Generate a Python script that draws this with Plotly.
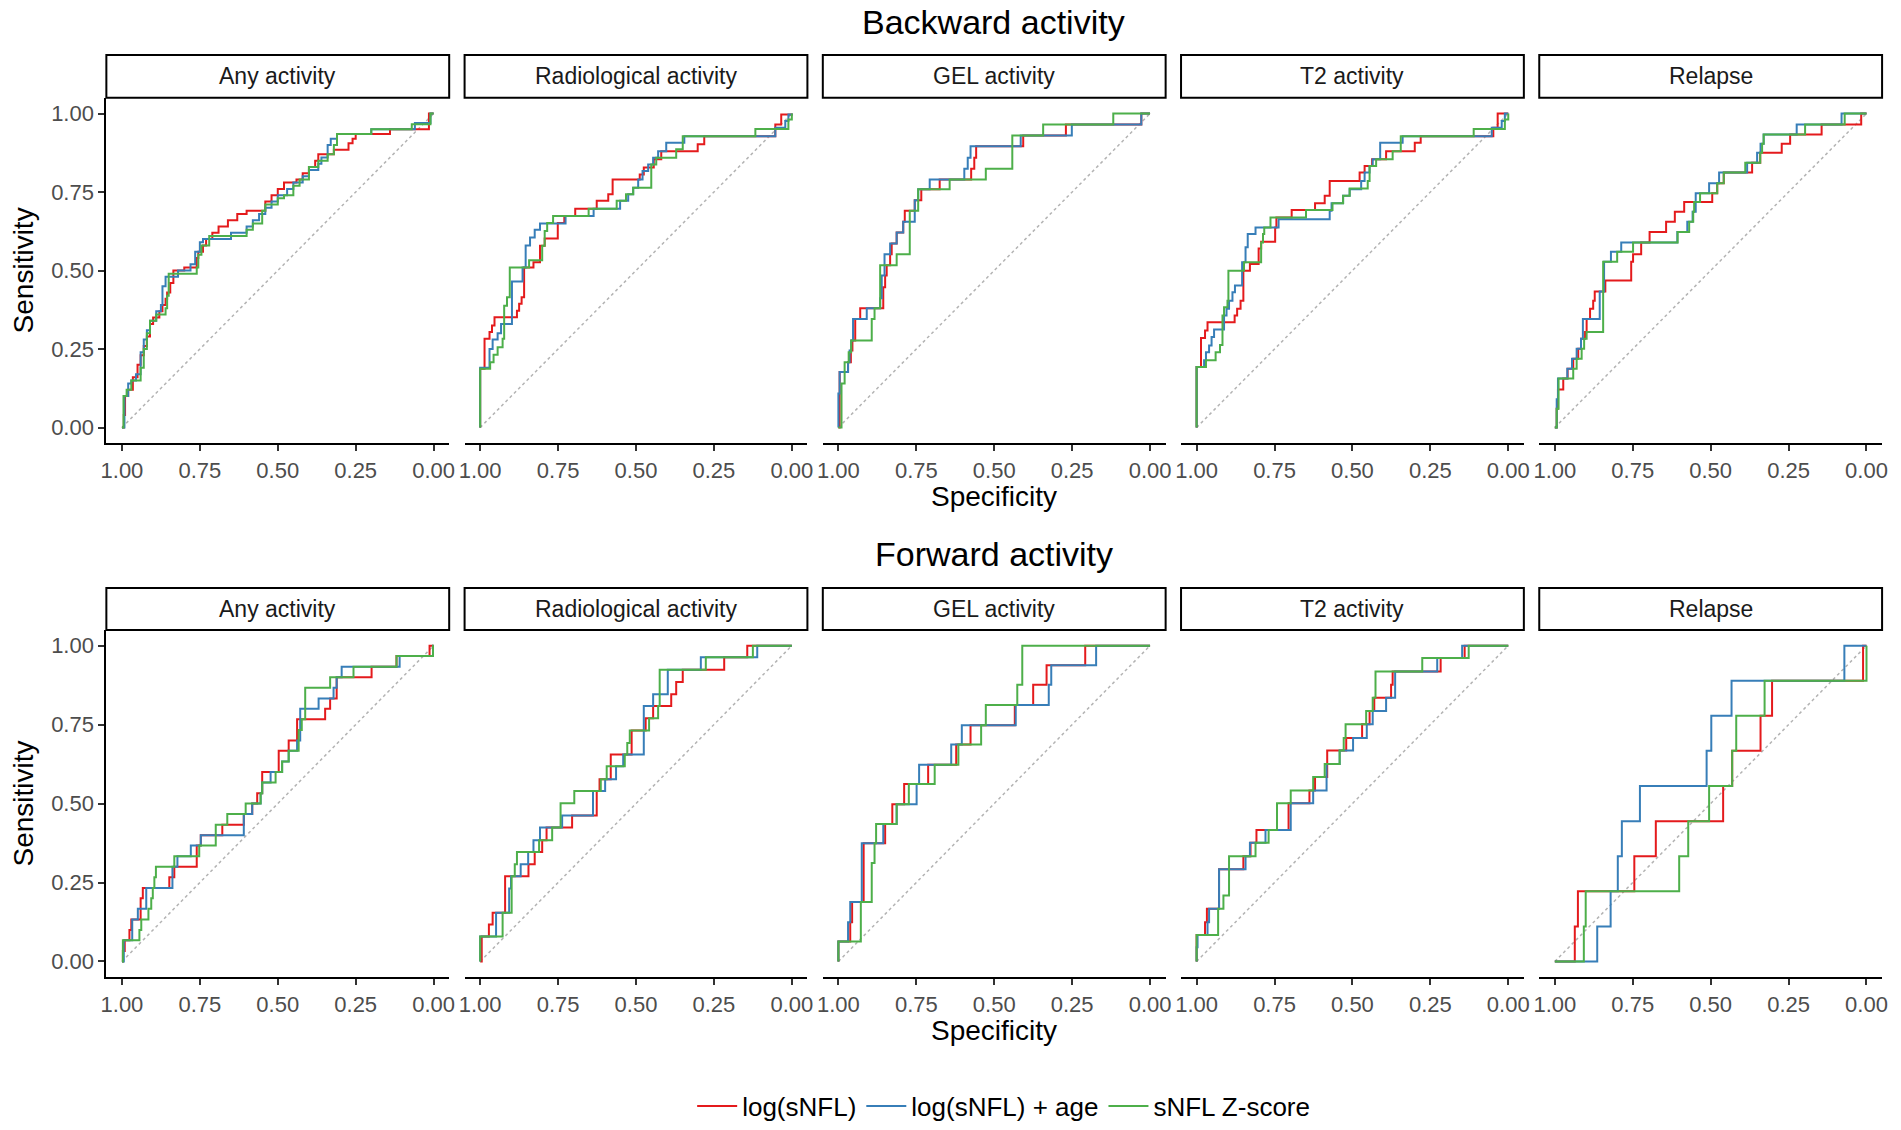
import plotly.graph_objects as go

# ROC curves: (1 - specificity, sensitivity) at each step corner
MODELS = ["log(sNFL)", "log(sNFL) + age", "sNFL Z-score"]
COLORS = ["#E41A1C", "#377EB8", "#4DAF4A"]
OUTCOMES = ["Any activity", "Radiological activity", "GEL activity", "T2 activity", "Relapse"]

# Backward activity
bwd_any_log = [(0, 0), (0.006, 0.04), (0.01, 0.1), (0.02, 0.12), (0.035, 0.16), (0.05, 0.2), (0.06, 0.23),
               (0.07, 0.26), (0.08, 0.29), (0.09, 0.33), (0.1, 0.35), (0.12, 0.37), (0.13, 0.39), (0.14, 0.41),
               (0.145, 0.43), (0.155, 0.46), (0.165, 0.5), (0.2, 0.51), (0.24, 0.54), (0.245, 0.56), (0.26, 0.58),
               (0.27, 0.6), (0.29, 0.62), (0.31, 0.64), (0.34, 0.66), (0.37, 0.68), (0.4, 0.69), (0.46, 0.72),
               (0.48, 0.74), (0.5, 0.76), (0.52, 0.78), (0.56, 0.79), (0.58, 0.81), (0.6, 0.83), (0.62, 0.85),
               (0.63, 0.87), (0.68, 0.885), (0.727, 0.905), (0.74, 0.92), (0.75, 0.935), (0.86, 0.95),
               (0.985, 1), (1, 1)]
bwd_any_age = [(0, 0), (0.008, 0.1), (0.02, 0.14), (0.03, 0.15), (0.045, 0.17), (0.06, 0.24), (0.07, 0.28),
               (0.08, 0.31), (0.09, 0.34), (0.11, 0.37), (0.125, 0.39), (0.13, 0.45), (0.14, 0.48), (0.18, 0.5),
               (0.22, 0.52), (0.235, 0.56), (0.25, 0.59), (0.26, 0.6), (0.35, 0.62), (0.4, 0.64), (0.42, 0.66),
               (0.44, 0.68), (0.46, 0.7), (0.48, 0.72), (0.5, 0.74), (0.53, 0.76), (0.55, 0.78), (0.58, 0.8),
               (0.6, 0.82), (0.63, 0.84), (0.64, 0.86), (0.66, 0.9), (0.67, 0.92), (0.69, 0.935), (0.8, 0.95),
               (0.94, 0.97), (0.99, 1), (1, 1)]
bwd_any_z = [(0, 0), (0.005, 0.1), (0.015, 0.12), (0.03, 0.15), (0.06, 0.19), (0.07, 0.25), (0.08, 0.3),
             (0.09, 0.34), (0.11, 0.36), (0.14, 0.38), (0.145, 0.42), (0.15, 0.49), (0.24, 0.51), (0.245, 0.55),
             (0.255, 0.58), (0.28, 0.61), (0.4, 0.63), (0.42, 0.65), (0.45, 0.69), (0.46, 0.71), (0.5, 0.73),
             (0.52, 0.74), (0.55, 0.77), (0.57, 0.79), (0.6, 0.83), (0.63, 0.85), (0.66, 0.87), (0.68, 0.9),
             (0.69, 0.935), (0.8, 0.95), (0.93, 0.966), (0.99, 1), (1, 1)]

bwd_rad_log = [(0, 0), (0, 0.187), (0.014, 0.283), (0.03, 0.304), (0.038, 0.325), (0.046, 0.351), (0.118, 0.372),
               (0.125, 0.394), (0.133, 0.415), (0.141, 0.51), (0.171, 0.526), (0.192, 0.579), (0.207, 0.602),
               (0.249, 0.651), (0.27, 0.674), (0.305, 0.697), (0.374, 0.722), (0.411, 0.743), (0.425, 0.79),
               (0.512, 0.806), (0.525, 0.828), (0.557, 0.854), (0.581, 0.88), (0.698, 0.902), (0.719, 0.928),
               (0.947, 0.965), (0.966, 0.997), (1, 1)]
bwd_rad_age = [(0, 0), (0, 0.19), (0.03, 0.25), (0.04, 0.28), (0.056, 0.3), (0.067, 0.33), (0.102, 0.465),
               (0.136, 0.51), (0.146, 0.58), (0.16, 0.605), (0.175, 0.63), (0.192, 0.65), (0.274, 0.674),
               (0.364, 0.697), (0.449, 0.722), (0.475, 0.743), (0.491, 0.764), (0.507, 0.79), (0.521, 0.817),
               (0.539, 0.838), (0.555, 0.859), (0.571, 0.88), (0.597, 0.907), (0.655, 0.928), (0.947, 0.955),
               (0.979, 0.976), (0.989, 0.997), (1, 1)]
bwd_rad_z = [(0, 0), (0, 0.187), (0.032, 0.208), (0.043, 0.232), (0.056, 0.256), (0.072, 0.283), (0.077, 0.388),
             (0.086, 0.415), (0.095, 0.51), (0.157, 0.533), (0.199, 0.579), (0.207, 0.626), (0.215, 0.651),
             (0.234, 0.674), (0.348, 0.697), (0.438, 0.722), (0.468, 0.743), (0.491, 0.764), (0.549, 0.838),
             (0.565, 0.859), (0.629, 0.886), (0.65, 0.928), (0.883, 0.951), (0.989, 0.981), (1, 1)]

bwd_gel_log = [(0, 0), (0.004, 0.177), (0.031, 0.208), (0.04, 0.245), (0.045, 0.277), (0.054, 0.309),
               (0.054, 0.346), (0.07, 0.38), (0.144, 0.447), (0.15, 0.484), (0.155, 0.517), (0.166, 0.552),
               (0.171, 0.586), (0.187, 0.621), (0.208, 0.655), (0.213, 0.69), (0.245, 0.724), (0.266, 0.759),
               (0.325, 0.79), (0.426, 0.824), (0.436, 0.859), (0.442, 0.896), (0.593, 0.93), (0.73, 0.965),
               (0.972, 1), (1, 1)]
bwd_gel_age = [(0, 0), (0, 0.108), (0.004, 0.177), (0.031, 0.208), (0.036, 0.245), (0.041, 0.277), (0.047, 0.309),
               (0.047, 0.346), (0.091, 0.38), (0.134, 0.412), (0.139, 0.484), (0.148, 0.552), (0.166, 0.586),
               (0.187, 0.621), (0.208, 0.655), (0.245, 0.724), (0.256, 0.759), (0.293, 0.79), (0.404, 0.824),
               (0.415, 0.859), (0.424, 0.896), (0.585, 0.93), (0.749, 0.965), (0.972, 1), (1, 1)]
bwd_gel_z = [(0, 0), (0.01, 0.14), (0.02, 0.208), (0.033, 0.24), (0.041, 0.277), (0.107, 0.346), (0.116, 0.38),
             (0.134, 0.517), (0.187, 0.552), (0.229, 0.69), (0.256, 0.759), (0.357, 0.79), (0.473, 0.824),
             (0.558, 0.93), (0.657, 0.965), (0.882, 1), (1, 1)]

bwd_t2_log = [(0, 0), (0, 0.193), (0.014, 0.285), (0.027, 0.309), (0.035, 0.335), (0.122, 0.357), (0.13, 0.378),
              (0.141, 0.404), (0.15, 0.499), (0.171, 0.521), (0.199, 0.57), (0.207, 0.592), (0.252, 0.637),
              (0.256, 0.669), (0.305, 0.693), (0.38, 0.714), (0.411, 0.738), (0.427, 0.785), (0.523, 0.812),
              (0.539, 0.833), (0.563, 0.854), (0.608, 0.88), (0.7, 0.907), (0.719, 0.928), (0.952, 0.955),
              (0.966, 1), (1, 1)]
bwd_t2_age = [(0, 0), (0, 0.193), (0.024, 0.214), (0.03, 0.24), (0.04, 0.261), (0.048, 0.288), (0.056, 0.312),
              (0.088, 0.357), (0.096, 0.378), (0.104, 0.404), (0.115, 0.431), (0.123, 0.452), (0.146, 0.526),
              (0.157, 0.574), (0.164, 0.616), (0.189, 0.637), (0.263, 0.663), (0.427, 0.69), (0.433, 0.714),
              (0.47, 0.738), (0.491, 0.759), (0.528, 0.785), (0.539, 0.812), (0.555, 0.833), (0.565, 0.854),
              (0.589, 0.907), (0.661, 0.928), (0.947, 0.955), (0.979, 0.976), (0.989, 1), (1, 1)]
bwd_t2_z = [(0, 0), (0, 0.193), (0.03, 0.214), (0.061, 0.24), (0.075, 0.263), (0.083, 0.357), (0.088, 0.383),
            (0.099, 0.404), (0.102, 0.499), (0.152, 0.526), (0.207, 0.589), (0.213, 0.616), (0.217, 0.637),
            (0.237, 0.669), (0.351, 0.693), (0.436, 0.714), (0.47, 0.738), (0.491, 0.761), (0.549, 0.785),
            (0.555, 0.833), (0.576, 0.854), (0.629, 0.88), (0.655, 0.928), (0.889, 0.951), (0.989, 0.981), (1, 1)]

bwd_rel_log = [(0, 0), (0.006, 0.06), (0.01, 0.121), (0.027, 0.156), (0.041, 0.187), (0.059, 0.219),
               (0.075, 0.251), (0.084, 0.283), (0.097, 0.304), (0.102, 0.346), (0.113, 0.378), (0.123, 0.404),
               (0.128, 0.433), (0.162, 0.468), (0.245, 0.528), (0.251, 0.552), (0.277, 0.589), (0.304, 0.623),
               (0.357, 0.655), (0.385, 0.687), (0.415, 0.718), (0.505, 0.746), (0.521, 0.778), (0.542, 0.812),
               (0.633, 0.843), (0.659, 0.875), (0.728, 0.904), (0.755, 0.933), (0.856, 0.965), (0.983, 1), (1, 1)]
bwd_rel_age = [(0, 0), (0.006, 0.09), (0.01, 0.156), (0.04, 0.187), (0.055, 0.219), (0.07, 0.251), (0.084, 0.283),
               (0.09, 0.346), (0.144, 0.433), (0.158, 0.528), (0.18, 0.56), (0.213, 0.589), (0.393, 0.623),
               (0.425, 0.655), (0.442, 0.687), (0.452, 0.746), (0.495, 0.778), (0.527, 0.812), (0.617, 0.843),
               (0.649, 0.875), (0.66, 0.904), (0.67, 0.933), (0.776, 0.965), (0.92, 1), (1, 1)]
bwd_rel_z = [(0, 0), (0.006, 0.06), (0.012, 0.156), (0.059, 0.187), (0.07, 0.219), (0.086, 0.251), (0.094, 0.283),
             (0.102, 0.304), (0.155, 0.346), (0.155, 0.528), (0.2, 0.56), (0.251, 0.589), (0.394, 0.623),
             (0.431, 0.655), (0.444, 0.687), (0.447, 0.718), (0.466, 0.746), (0.521, 0.778), (0.542, 0.812),
             (0.611, 0.843), (0.659, 0.875), (0.665, 0.904), (0.67, 0.933), (0.803, 0.965), (0.93, 1), (1, 1)]

# Forward activity
fwd_any_log = [(0, 0), (0.003, 0.033), (0.009, 0.067), (0.024, 0.1), (0.03, 0.133), (0.06, 0.2), (0.067, 0.233),
               (0.152, 0.267), (0.168, 0.3), (0.24, 0.367), (0.253, 0.4), (0.322, 0.433), (0.391, 0.467),
               (0.418, 0.5), (0.434, 0.533), (0.45, 0.6), (0.503, 0.667), (0.535, 0.7), (0.562, 0.767),
               (0.652, 0.8), (0.668, 0.833), (0.689, 0.9), (0.801, 0.933), (0.881, 0.967), (0.987, 1), (1, 1)]
fwd_any_age = [(0, 0), (0.006, 0.067), (0.033, 0.133), (0.051, 0.167), (0.078, 0.233), (0.162, 0.3),
               (0.178, 0.333), (0.221, 0.367), (0.253, 0.4), (0.391, 0.467), (0.418, 0.5), (0.445, 0.533),
               (0.45, 0.567), (0.477, 0.6), (0.514, 0.633), (0.535, 0.667), (0.562, 0.7), (0.572, 0.8),
               (0.631, 0.833), (0.679, 0.867), (0.689, 0.9), (0.705, 0.933), (0.891, 0.967), (0.998, 1), (1, 1)]
fwd_any_z = [(0, 0), (0.003, 0.067), (0.056, 0.1), (0.062, 0.133), (0.085, 0.167), (0.094, 0.2), (0.099, 0.233),
             (0.104, 0.267), (0.109, 0.3), (0.168, 0.333), (0.248, 0.367), (0.301, 0.433), (0.338, 0.467),
             (0.397, 0.5), (0.445, 0.533), (0.45, 0.567), (0.493, 0.6), (0.514, 0.633), (0.535, 0.667),
             (0.567, 0.733), (0.577, 0.767), (0.588, 0.867), (0.668, 0.9), (0.743, 0.933), (0.881, 0.967),
             (0.998, 1), (1, 1)]

fwd_rad_log = [(0, 0), (0.005, 0.079), (0.028, 0.117), (0.04, 0.154), (0.08, 0.27), (0.155, 0.308),
               (0.175, 0.347), (0.199, 0.384), (0.213, 0.424), (0.295, 0.462), (0.374, 0.54), (0.383, 0.577),
               (0.419, 0.655), (0.486, 0.731), (0.531, 0.77), (0.555, 0.809), (0.613, 0.846), (0.629, 0.885),
               (0.65, 0.924), (0.783, 0.963), (0.857, 1), (1, 1)]
fwd_rad_age = [(0, 0), (0, 0.079), (0.051, 0.154), (0.093, 0.231), (0.099, 0.27), (0.13, 0.308), (0.154, 0.347),
               (0.171, 0.384), (0.192, 0.424), (0.263, 0.462), (0.362, 0.54), (0.401, 0.577), (0.436, 0.618),
               (0.459, 0.655), (0.525, 0.809), (0.555, 0.846), (0.602, 0.924), (0.708, 0.963), (0.889, 1), (1, 1)]
fwd_rad_z = [(0, 0), (0, 0.079), (0.072, 0.154), (0.101, 0.27), (0.111, 0.308), (0.118, 0.347), (0.189, 0.384),
             (0.231, 0.424), (0.258, 0.501), (0.302, 0.54), (0.387, 0.577), (0.406, 0.618), (0.464, 0.655),
             (0.472, 0.692), (0.48, 0.731), (0.542, 0.77), (0.571, 0.809), (0.576, 0.924), (0.724, 0.963),
             (0.875, 1), (1, 1)]

fwd_gel_log = [(0, 0), (0, 0.063), (0.038, 0.124), (0.044, 0.188), (0.081, 0.374), (0.15, 0.435), (0.173, 0.498),
               (0.211, 0.562), (0.288, 0.623), (0.378, 0.687), (0.424, 0.748), (0.566, 0.812), (0.625, 0.876),
               (0.668, 0.938), (0.792, 1), (1, 1)]
fwd_gel_age = [(0, 0), (0, 0.063), (0.031, 0.124), (0.038, 0.188), (0.075, 0.374), (0.144, 0.435),
               (0.187, 0.498), (0.251, 0.562), (0.259, 0.623), (0.362, 0.687), (0.396, 0.748), (0.569, 0.812),
               (0.675, 0.876), (0.683, 0.938), (0.827, 1), (1, 1)]
fwd_gel_z = [(0, 0), (0, 0.063), (0.072, 0.188), (0.107, 0.312), (0.116, 0.374), (0.121, 0.435), (0.187, 0.498),
             (0.226, 0.562), (0.309, 0.623), (0.385, 0.687), (0.458, 0.748), (0.473, 0.812), (0.574, 0.876),
             (0.59, 1), (1, 1)]

fwd_t2_log = [(0, 0), (0, 0.084), (0.027, 0.124), (0.033, 0.167), (0.072, 0.292), (0.15, 0.333), (0.173, 0.376),
              (0.192, 0.416), (0.295, 0.501), (0.362, 0.541), (0.38, 0.584), (0.419, 0.668), (0.48, 0.708),
              (0.531, 0.751), (0.555, 0.793), (0.57, 0.835), (0.624, 0.876), (0.629, 0.918), (0.783, 0.961),
              (0.86, 1), (1, 1)]
fwd_t2_age = [(0, 0), (0, 0.045), (0.003, 0.084), (0.035, 0.124), (0.04, 0.167), (0.072, 0.292), (0.157, 0.333),
              (0.171, 0.376), (0.221, 0.416), (0.302, 0.501), (0.374, 0.541), (0.417, 0.625), (0.459, 0.668),
              (0.502, 0.708), (0.546, 0.751), (0.565, 0.793), (0.608, 0.835), (0.637, 0.918), (0.772, 0.961),
              (0.852, 1), (1, 1)]
fwd_t2_z = [(0, 0), (0, 0.084), (0.069, 0.167), (0.086, 0.209), (0.104, 0.333), (0.189, 0.376), (0.231, 0.416),
            (0.258, 0.501), (0.302, 0.541), (0.374, 0.584), (0.411, 0.625), (0.459, 0.668), (0.472, 0.708),
            (0.478, 0.751), (0.544, 0.793), (0.565, 0.835), (0.574, 0.918), (0.724, 0.961), (0.873, 1), (1, 1)]

fwd_rel_log = [(0, 0), (0.064, 0.111), (0.074, 0.222), (0.255, 0.333), (0.324, 0.444), (0.54, 0.556),
               (0.569, 0.667), (0.66, 0.778), (0.697, 0.889), (0.989, 1), (1, 1)]
fwd_rel_age = [(0, 0), (0.136, 0.111), (0.179, 0.222), (0.202, 0.333), (0.215, 0.444), (0.273, 0.556),
               (0.487, 0.667), (0.502, 0.778), (0.567, 0.889), (0.929, 1), (1, 1)]
fwd_rel_z = [(0, 0), (0.093, 0.111), (0.099, 0.222), (0.399, 0.333), (0.428, 0.444), (0.495, 0.556),
             (0.569, 0.667), (0.582, 0.778), (0.673, 0.889), (1, 0.889), (1, 1)]

backward = [
    [bwd_any_log, bwd_any_age, bwd_any_z],
    [bwd_rad_log, bwd_rad_age, bwd_rad_z],
    [bwd_gel_log, bwd_gel_age, bwd_gel_z],
    [bwd_t2_log, bwd_t2_age, bwd_t2_z],
    [bwd_rel_log, bwd_rel_age, bwd_rel_z],
]
forward = [
    [fwd_any_log, fwd_any_age, fwd_any_z],
    [fwd_rad_log, fwd_rad_age, fwd_rad_z],
    [fwd_gel_log, fwd_gel_age, fwd_gel_z],
    [fwd_t2_log, fwd_t2_age, fwd_t2_z],
    [fwd_rel_log, fwd_rel_age, fwd_rel_z],
]

chance_spec = [1.0, 0.0]
chance_sens = [0.0, 1.0]
tick_vals = [1.0, 0.75, 0.5, 0.25, 0.0]
tick_text = ["1.00", "0.75", "0.50", "0.25", "0.00"]

W, H = 1901, 1130
FONT = "Liberation Sans, Arial, Helvetica, sans-serif"

# pixel geometry of the facet grid
PANEL_LEFT0 = 101
PANEL_STEP = 360.5
PANEL_W = 345
ROWS = [  # (strip top, panel top, panel bottom)
    (55, 98, 444),
    (589, 631, 979),
]


def px_x(p):
    return p / W


def px_y(p):
    return 1 - p / H


def label(text, x, y, size, color="black", angle=0):
    return dict(text=text, xref="paper", yref="paper", x=px_x(x), y=px_y(y),
                xanchor="center", yanchor="middle", textangle=angle, showarrow=False,
                font=dict(size=size, color=color))


fig = go.Figure()
layout = dict(
    width=W, height=H,
    margin=dict(l=0, r=0, t=0, b=0),
    paper_bgcolor="white", plot_bgcolor="white",
    font=dict(family=FONT, size=22, color="black"),
    showlegend=True,
    legend=dict(orientation="h", x=px_x(1004), xanchor="center", y=px_y(1108), yanchor="middle",
                font=dict(size=26, color="black"), itemwidth=40, tracegroupgap=0),
)
shapes = []
annotations = []

for r, data in enumerate([backward, forward]):
    strip_top, panel_top, panel_bot = ROWS[r]
    for c in range(5):
        k = r * 5 + c + 1
        xname = "x" if k == 1 else f"x{k}"
        yname = "y" if k == 1 else f"y{k}"
        left = PANEL_LEFT0 + PANEL_STEP * c
        right = left + PANEL_W

        layout["xaxis" if k == 1 else f"xaxis{k}"] = dict(
            domain=[px_x(left), px_x(right)], anchor=yname, range=[1.05, -0.05],
            tickvals=tick_vals, ticktext=tick_text, ticks="outside", ticklen=6, tickwidth=1.5,
            tickcolor="#333333", showline=True, linecolor="black", linewidth=2,
            showgrid=False, zeroline=False, tickfont=dict(size=22, color="#4d4d4d"),
        )
        yax = dict(
            domain=[px_y(panel_bot), px_y(panel_top)], anchor=xname, range=[-0.05, 1.05],
            showgrid=False, zeroline=False,
        )
        if c == 0:
            yax.update(tickvals=tick_vals[::-1], ticktext=tick_text[::-1], ticks="outside", ticklen=6,
                       tickwidth=1.5, tickcolor="#333333", showline=True, linecolor="black", linewidth=2,
                       tickfont=dict(size=22, color="#4d4d4d"))
        else:
            yax.update(showline=False, showticklabels=False, ticks="")
        layout["yaxis" if k == 1 else f"yaxis{k}"] = yax

        fig.add_trace(go.Scatter(
            x=chance_spec, y=chance_sens, xaxis=xname, yaxis=yname, mode="lines",
            line=dict(color="#b3b3b3", width=1.5, dash="dot"), showlegend=False, hoverinfo="skip",
        ))
        for m in range(3):
            pts = data[c][m]
            fig.add_trace(go.Scatter(
                x=[1 - p[0] for p in pts], y=[p[1] for p in pts],
                xaxis=xname, yaxis=yname, mode="lines", line_shape="hv",
                line=dict(color=COLORS[m], width=2), name=MODELS[m],
                legendgroup=MODELS[m], showlegend=(k == 1),
            ))

        # facet strip
        shapes.append(dict(type="rect", xref="paper", yref="paper",
                           x0=px_x(left), x1=px_x(right), y0=px_y(panel_top), y1=px_y(strip_top),
                           line=dict(color="black", width=2), fillcolor="white", layer="below"))
        annotations.append(label(OUTCOMES[c], (left + right) / 2, (strip_top + panel_top) / 2, 23, "#1a1a1a"))

    annotations.append(label("Sensitivity", 18, (panel_top + panel_bot) / 2, 28, angle=-90))

annotations += [
    label("Backward activity", 994, 22, 34),
    label("Forward activity", 994, 555, 34),
    label("Specificity", 994, 497, 28),
    label("Specificity", 994, 1032, 28),
]

layout["shapes"] = shapes
layout["annotations"] = annotations
fig.update_layout(**layout)

fig.write_html("out.html", config={"displayModeBar": False},
               post_script="document.body.style.margin='0';")
